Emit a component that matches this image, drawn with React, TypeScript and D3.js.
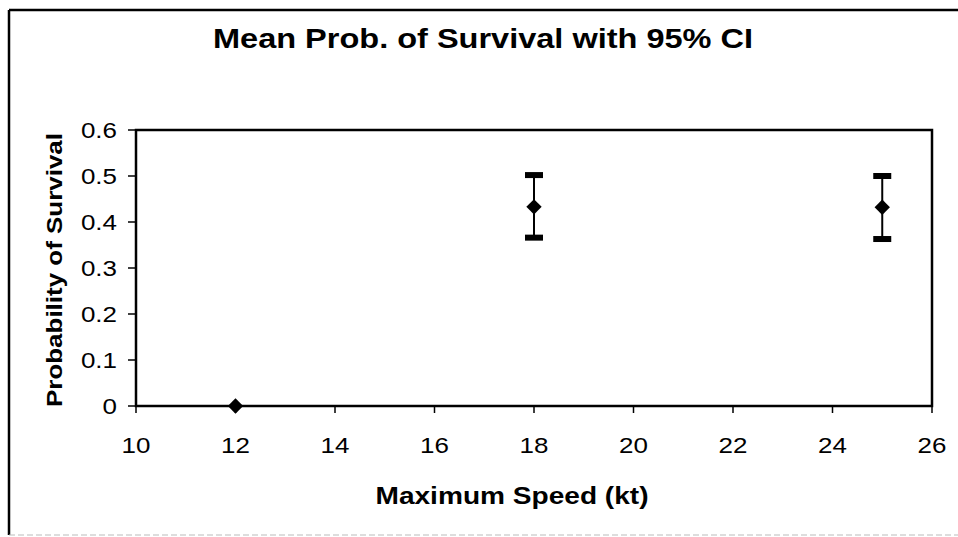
import React from "react";
import * as d3 from "d3";

const speeds = [12, 18, 25];
const means = [0, 0.433, 0.432];
const lowers = [null, 0.366, 0.363];
const uppers = [null, 0.502, 0.5];
const xTicks = [10, 12, 14, 16, 18, 20, 22, 24, 26];
const yTicks = [0, 0.1, 0.2, 0.3, 0.4, 0.5, 0.6];
const title = "Mean Prob. of Survival with 95% CI";
const xLabel = "Maximum Speed (kt)";
const yLabel = "Probability of Survival";

const W = 958, H = 537;
const plot = { left: 136, right: 932, top: 130, bottom: 406 };
const FONT = "'Liberation Sans', Arial, Helvetica, sans-serif";
const SX = 1.18;

export default function App() {
  const x = d3.scaleLinear().domain([10, 26]).range([plot.left, plot.right]);
  const y = d3.scaleLinear().domain([0, 0.6]).range([plot.bottom, plot.top]);
  const diamond = d3.symbol().type(d3.symbolDiamond2).size(150)();

  return (
    <svg width={W} height={H} style={{ position: "absolute", left: 0, top: 0, background: "#fff" }}>
      <rect x={0} y={0} width={W} height={H} fill="#fff" />
      {/* outer frame */}
      <line x1={9} y1={10} x2={W} y2={10} stroke="#000" strokeWidth={2.5} />
      <line x1={9} y1={10} x2={9} y2={535} stroke="#000" strokeWidth={2.5} />
      <line x1={9} y1={535} x2={W} y2={535} stroke="#bbb" strokeWidth={1} strokeDasharray="6 3" />

      {/* title */}
      <text x={483} y={48} fontFamily={FONT} fontWeight="bold" fontSize={28} textAnchor="middle"
        textLength={540} lengthAdjust="spacingAndGlyphs">{title}</text>

      {/* plot frame */}
      <rect x={plot.left} y={plot.top} width={plot.right - plot.left} height={plot.bottom - plot.top}
        fill="none" stroke="#000" strokeWidth={2.5} />

      {/* y ticks */}
      {yTicks.map((t) => (
        <g key={"y" + t}>
          <line x1={plot.left - 8} x2={plot.left} y1={y(t)} y2={y(t)} stroke="#000" strokeWidth={1.5} />
          <g transform={`translate(117,${y(t) + 8}) scale(${SX},1)`}>
            <text x={0} y={0} fontFamily={FONT} fontSize={22} textAnchor="end">{String(t)}</text>
          </g>
        </g>
      ))}

      {/* x ticks */}
      {xTicks.map((t) => (
        <g key={"x" + t}>
          <line x1={x(t)} x2={x(t)} y1={plot.bottom} y2={plot.bottom + 7} stroke="#000" strokeWidth={1.5} />
          <g transform={`translate(${x(t)},453) scale(${SX},1)`}>
            <text x={0} y={0} fontFamily={FONT} fontSize={22} textAnchor="middle">{String(t)}</text>
          </g>
        </g>
      ))}

      {/* axis labels */}
      <text x={512} y={504} fontFamily={FONT} fontWeight="bold" fontSize={23} textAnchor="middle"
        textLength={273} lengthAdjust="spacingAndGlyphs">{xLabel}</text>
      <text transform={`translate(62,270) rotate(-90)`} x={0} y={0} fontFamily={FONT} fontWeight="bold"
        fontSize={22} textAnchor="middle" textLength={274} lengthAdjust="spacingAndGlyphs">{yLabel}</text>

      {/* error bars */}
      {speeds.map((s, i) =>
        lowers[i] != null && uppers[i] != null ? (
          <g key={"e" + s}>
            <line x1={x(s)} x2={x(s)} y1={y(lowers[i] as number)} y2={y(uppers[i] as number)} stroke="#000" strokeWidth={2} />
            <rect x={x(s) - 9} y={y(uppers[i] as number) - 3} width={18} height={6} fill="#000" />
            <rect x={x(s) - 9} y={y(lowers[i] as number) - 3} width={18} height={6} fill="#000" />
          </g>
        ) : null
      )}

      {/* markers */}
      {speeds.map((s, i) => (
        <path key={"m" + s} d={diamond} transform={`translate(${x(s)},${y(means[i])})`} fill="#000" />
      ))}
    </svg>
  );
}
